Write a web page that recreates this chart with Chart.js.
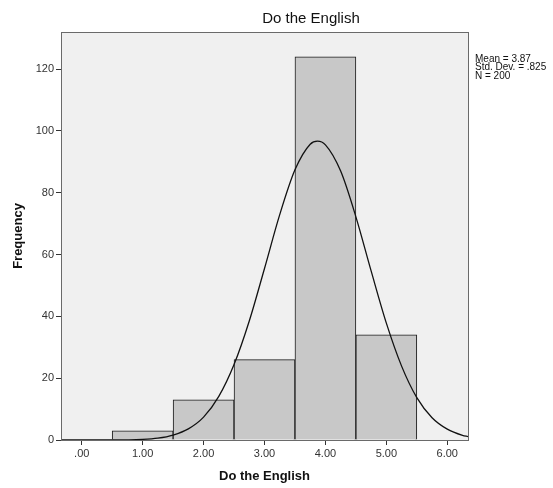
<!DOCTYPE html>
<html>
<head>
<meta charset="utf-8">
<script src="https://cdn.jsdelivr.net/npm/chart.js@4/dist/chart.umd.min.js"></script>
<style>
  html, body { margin: 0; padding: 0; background: #fff; }
  #wrap { width: 553px; height: 488px; position: relative; }
</style>
</head>
<body>
<div id="wrap"><canvas id="histChart"></canvas></div>
<script>
// histogram bins (midpoints) and counts
const binCenters = [1, 2, 3, 4, 5];
const counts = [3, 13, 26, 124, 34];

// normal curve
const curveX = [-0.34, 0.5, 1, 1.25, 1.5, 1.75, 2, 2.25, 2.5, 2.75, 3, 3.25, 3.5, 3.75, 3.87, 4, 4.25, 4.5, 4.75, 5, 5.25, 5.5, 5.75, 6, 6.25, 6.34];
const curveY = [0, 0, 0.2, 0.6, 1.6, 3.6, 7.4, 14.1, 24.4, 38.5, 55.5, 72.9, 87.4, 95.7, 96.7, 95.5, 87.0, 72.2, 54.7, 37.8, 23.9, 13.7, 7.2, 3.5, 1.5, 1.1];

const xTicks = [0, 1, 2, 3, 4, 5, 6];
const yTicks = [0, 20, 40, 60, 80, 100, 120];
const statsLines = ["Mean = 3.87", "Std. Dev. = .825", "N = 200"];

const FONT = "'Liberation Sans', Arial, sans-serif";

// plot background, frame and surrounding text
const decor = {
  id: "decor",
  beforeDatasetsDraw(chart) {
    const a = chart.chartArea, c = chart.ctx;
    c.save();
    c.fillStyle = "#f0f0f0";
    c.fillRect(a.left, a.top, a.right - a.left, a.bottom - a.top);
    c.restore();
  },
  afterDraw(chart) {
    const a = chart.chartArea, c = chart.ctx;
    c.save();
    c.strokeStyle = "#6a6a6a";
    c.lineWidth = 1;
    c.strokeRect(Math.round(a.left) + 0.5, Math.round(a.top) + 0.5, Math.round(a.right - a.left), Math.round(a.bottom - a.top));

    c.fillStyle = "#111";
    c.textAlign = "center";
    c.textBaseline = "middle";
    c.font = "15px " + FONT;
    c.fillText("Do the English", 311, 19);

    c.font = "bold 13px " + FONT;
    c.fillText("Do the English", (a.left + a.right) / 2, 476);

    c.save();
    c.translate(18, 236);
    c.rotate(-Math.PI / 2);
    c.fillText("Frequency", 0, 0);
    c.restore();

    c.font = "10px " + FONT;
    c.textAlign = "left";
    statsLines.forEach((t, i) => c.fillText(t, a.right + 7, 59 + i * 8.5));
    c.restore();
  }
};

const ctx = document.getElementById("histChart").getContext("2d");
new Chart(ctx, {
  data: {
    datasets: [
      {
        type: "line",
        data: curveX.map((x, i) => ({ x: x, y: curveY[i] })),
        borderColor: "#111",
        borderWidth: 1.3,
        pointRadius: 0,
        cubicInterpolationMode: "monotone",
        fill: false,
        order: 0
      },
      {
        type: "bar",
        data: binCenters.map((x, i) => ({ x: x, y: counts[i] })),
        backgroundColor: "#c8c8c8",
        borderColor: "#1a1a1a",
        borderWidth: 1,
        barPercentage: 1,
        categoryPercentage: 1,
        order: 1
      }
    ]
  },
  options: {
    responsive: true,
    maintainAspectRatio: false,
    animation: false,
    layout: { padding: { left: 0, top: 32, right: 85, bottom: 0 } },
    plugins: {
      legend: { display: false },
      tooltip: { enabled: false }
    },
    scales: {
      x: {
        type: "linear",
        offset: false,
        min: -0.34,
        max: 6.34,
        afterBuildTicks: s => { s.ticks = xTicks.map(v => ({ value: v })); },
        afterFit: s => { s.height = 48; },
        ticks: {
          color: "#333",
          font: { family: FONT, size: 11 },
          padding: 2,
          maxRotation: 0,
          callback: v => v === 0 ? ".00" : v.toFixed(2)
        },
        grid: { offset: false, drawOnChartArea: false, color: "#333", tickLength: 5 },
        border: { display: false }
      },
      y: {
        min: 0,
        max: 132,
        afterBuildTicks: s => { s.ticks = yTicks.map(v => ({ value: v })); },
        afterFit: s => { s.width = 61; },
        ticks: {
          color: "#333",
          font: { family: FONT, size: 11 },
          padding: 2
        },
        grid: { drawOnChartArea: false, color: "#333", tickLength: 5 },
        border: { display: false }
      }
    }
  },
  plugins: [decor]
});
</script>
</body>
</html>
